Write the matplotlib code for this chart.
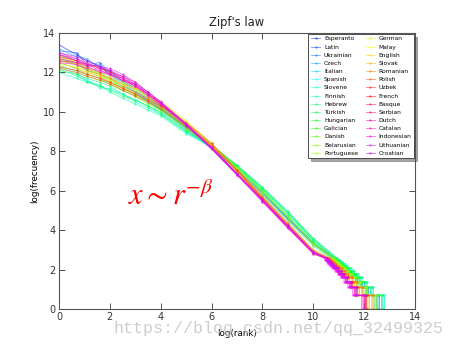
import numpy as np
import matplotlib
matplotlib.use("Agg")
import matplotlib.pyplot as plt
from matplotlib.colors import hsv_to_rgb

rank_knots = [0, 0.69, 1.1, 1.61, 2.0, 2.5, 3.0, 3.5, 4.0, 5.0, 6.0, 7.0, 8.0, 9.0, 10.0]

languages = ['Esperanto', 'Latin', 'Ukrainian', 'Czech', 'Italian',
             'Spanish', 'Slovene', 'Finnish', 'Hebrew', 'Turkish',
             'Hungarian', 'Galician', 'Danish', 'Belarusian', 'Portuguese',
             'German', 'Malay', 'English', 'Slovak', 'Romanian',
             'Polish', 'Uzbek', 'French', 'Basque', 'Serbian',
             'Dutch', 'Catalan', 'Indonesian', 'Lithuanian', 'Croatian']

# log(frequency) at rank_knots, one row per language
log_freq = [
    [13.4, 12.9, 12.6, 12.3, 11.9, 11.5, 11.1, 10.6, 10.2, 9.2, 8.2, 7.05, 5.85, 4.55, 3.3],
    [13.1, 13.0, 12.4, 12.5, 12.0, 11.6, 11.2, 10.8, 10.3, 9.3, 8.35, 7.15, 5.95, 4.65, 3.35],
    [12.9, 12.6, 12.3, 12.4, 11.8, 11.4, 11.0, 10.5, 10.1, 9.1, 8.15, 7.05, 5.85, 4.6, 3.35],
    [13.2, 12.8, 12.7, 12.2, 12.1, 11.5, 11.2, 10.7, 10.25, 9.25, 8.25, 7.05, 5.9, 4.6, 3.3],
    [12.7, 12.5, 12.1, 12.0, 11.7, 11.4, 11.0, 10.6, 10.15, 9.15, 8.15, 6.95, 5.75, 4.45, 3.2],
    [12.4, 12.0, 11.6, 11.3, 11.1, 10.9, 10.6, 10.3, 10.0, 9.0, 8.2, 7.25, 6.1, 4.85, 3.5],
    [12.2, 11.8, 11.6, 11.2, 11.2, 10.9, 10.5, 10.2, 9.85, 8.95, 8.25, 7.25, 6.15, 4.9, 3.55],
    [12.0, 11.7, 11.5, 11.4, 11.0, 10.7, 10.4, 10.1, 9.8, 8.9, 8.2, 7.3, 6.2, 4.95, 3.6],
    [12.3, 11.9, 11.7, 11.5, 11.3, 10.9, 10.6, 10.3, 9.9, 9.0, 8.2, 7.2, 6.1, 4.85, 3.5],
    [12.1, 11.9, 11.5, 11.3, 11.1, 10.8, 10.6, 10.3, 9.95, 9.05, 8.3, 7.3, 6.15, 4.9, 3.55],
    [12.5, 12.2, 11.9, 11.7, 11.4, 11.1, 10.8, 10.5, 10.1, 9.2, 8.35, 7.25, 6.05, 4.75, 3.45],
    [12.8, 12.4, 12.2, 11.9, 11.6, 11.3, 10.9, 10.5, 10.15, 9.2, 8.3, 7.15, 5.95, 4.65, 3.35],
    [12.6, 12.4, 12.1, 11.8, 11.6, 11.2, 10.9, 10.6, 10.2, 9.3, 8.35, 7.2, 6.0, 4.65, 3.35],
    [12.3, 12.1, 11.8, 11.6, 11.5, 11.1, 10.8, 10.4, 10.05, 9.15, 8.25, 7.15, 5.95, 4.65, 3.3],
    [12.7, 12.4, 12.2, 11.9, 11.7, 11.4, 11.1, 10.7, 10.3, 9.35, 8.35, 7.1, 5.85, 4.5, 3.2],
    [12.9, 12.5, 12.3, 12.0, 11.8, 11.5, 11.2, 10.8, 10.4, 9.45, 8.35, 7.05, 5.7, 4.3, 2.95],
    [12.4, 12.3, 12.0, 11.8, 11.6, 11.4, 11.1, 10.8, 10.45, 9.5, 8.4, 7.0, 5.6, 4.2, 2.9],
    [12.8, 12.5, 12.2, 11.9, 11.7, 11.4, 11.2, 10.9, 10.55, 9.55, 8.4, 6.95, 5.55, 4.15, 2.85],
    [12.5, 12.2, 12.0, 11.8, 11.5, 11.2, 10.9, 10.6, 10.2, 9.3, 8.3, 7.05, 5.7, 4.3, 2.95],
    [12.6, 12.4, 12.1, 11.9, 11.7, 11.3, 11.0, 10.7, 10.35, 9.4, 8.3, 7.0, 5.65, 4.25, 2.9],
    [12.2, 12.0, 11.8, 11.6, 11.4, 11.1, 10.8, 10.5, 10.15, 9.25, 8.25, 7.05, 5.7, 4.35, 3.0],
    [12.3, 12.1, 11.9, 11.7, 11.5, 11.2, 10.9, 10.6, 10.3, 9.45, 8.4, 7.05, 5.6, 4.15, 2.8],
    [12.9, 12.6, 12.4, 12.2, 12.0, 11.7, 11.3, 10.9, 10.4, 9.35, 8.2, 6.9, 5.6, 4.25, 2.9],
    [12.6, 12.5, 12.3, 12.0, 11.9, 11.6, 11.4, 10.9, 10.45, 9.4, 8.2, 6.85, 5.5, 4.15, 2.85],
    [12.8, 12.6, 12.4, 12.3, 12.0, 11.8, 11.5, 11.0, 10.5, 9.4, 8.15, 6.8, 5.5, 4.15, 2.85],
    [13.0, 12.7, 12.5, 12.2, 12.1, 11.7, 11.3, 10.8, 10.35, 9.3, 8.15, 6.85, 5.55, 4.25, 2.9],
    [12.7, 12.5, 12.4, 12.1, 11.9, 11.6, 11.3, 10.9, 10.4, 9.35, 8.15, 6.8, 5.45, 4.1, 2.85],
    [12.5, 12.4, 12.2, 12.1, 11.9, 11.7, 11.4, 11.0, 10.5, 9.4, 8.2, 6.85, 5.45, 4.1, 2.8],
    [12.9, 12.7, 12.4, 12.3, 12.2, 11.9, 11.5, 11.0, 10.5, 9.35, 8.1, 6.8, 5.5, 4.15, 2.85],
    [13.0, 12.8, 12.6, 12.3, 12.1, 11.8, 11.4, 10.9, 10.45, 9.35, 8.15, 6.85, 5.55, 4.2, 2.9],
]

# staircase tail: log(rank) where the frequency-13 words start and where freq 2 drops to 1
tail_start = [10.8, 10.8, 10.85, 10.8, 10.7, 10.9, 10.95, 10.95, 10.9, 10.9,
              10.85, 10.8, 10.8, 10.8, 10.75, 10.65, 10.6, 10.6, 10.65, 10.6,
              10.65, 10.55, 10.55, 10.5, 10.5, 10.55, 10.5, 10.45, 10.5, 10.55]
tail_drop = [12.5, 12.6, 12.7, 12.55, 12.4, 12.7, 12.8, 12.8, 12.75, 12.7,
             12.6, 12.5, 12.45, 12.5, 12.4, 12.3, 12.2, 12.15, 12.3, 12.2,
             12.35, 12.1, 12.1, 12.0, 12.0, 12.05, 11.95, 11.9, 12.0, 12.05]
step_freq = [12, 11, 10, 9, 8, 7, 6, 5, 4, 3, 2]
step_frac = [0.95, 0.90, 0.85, 0.79, 0.72, 0.65, 0.57, 0.48, 0.37, 0.24, 0.0]

fig = plt.figure(figsize=(4.56, 3.46), dpi=100)
ax = fig.add_axes([0.1294, 0.1069, 0.7807, 0.7977])

n = len(languages)
for i in range(n):
    color = hsv_to_rgb(((0.65 - 0.03 * i) % 1.0, 0.9, 1.0))
    x = list(rank_knots) + [tail_start[i]]
    y = list(log_freq[i]) + [np.log(13)]
    width = tail_drop[i] - tail_start[i]
    prev = tail_start[i]
    for f, frac in zip(step_freq, step_frac):
        end = tail_drop[i] - width * frac
        x += [prev, end]
        y += [np.log(f), np.log(f)]
        prev = end
    x.append(tail_drop[i])
    y.append(0.0)
    ax.plot(x, y, '.-', color=color, lw=0.6, ms=1.3, alpha=0.65, label=languages[i])

ax.set_xlim(0, 14)
ax.set_ylim(0, 14)
ax.set_xticks(range(0, 15, 2))
ax.set_yticks(range(0, 15, 2))
ax.tick_params(direction='in', top=True, right=True, length=4, width=0.6,
               labelsize=7, pad=2.5, colors='#333333')
for s in ax.spines.values():
    s.set_color('#555555')
    s.set_linewidth(0.8)

ax.set_title("Zipf's law", fontsize=8.3, color='#222222', pad=5)
ax.set_xlabel('log(rank)', fontsize=6.3, labelpad=5)
ax.set_ylabel('log(frecuency)', fontsize=6.3, labelpad=3)

ax.text(2.71, 5.3, r'$x \sim r^{-\beta}$', color='red', fontsize=22,
        va='baseline', math_fontfamily='stix')

leg = ax.legend(loc='upper right', ncol=2, fontsize=4.3, shadow=True,
                numpoints=1, handlelength=1.6, handletextpad=0.6,
                labelspacing=0.5, columnspacing=1.3, borderaxespad=0.15,
                borderpad=0.4, fancybox=False)
leg.get_frame().set_edgecolor('#333333')
leg.get_frame().set_linewidth(0.6)

fig.text(0.248, 0.038, 'https://blog.csdn.net/qq_32499325', fontsize=12,
         family='Liberation Mono', color='#c8c8c8', alpha=0.9)

plt.savefig('out.png', dpi=100)
plt.close()
